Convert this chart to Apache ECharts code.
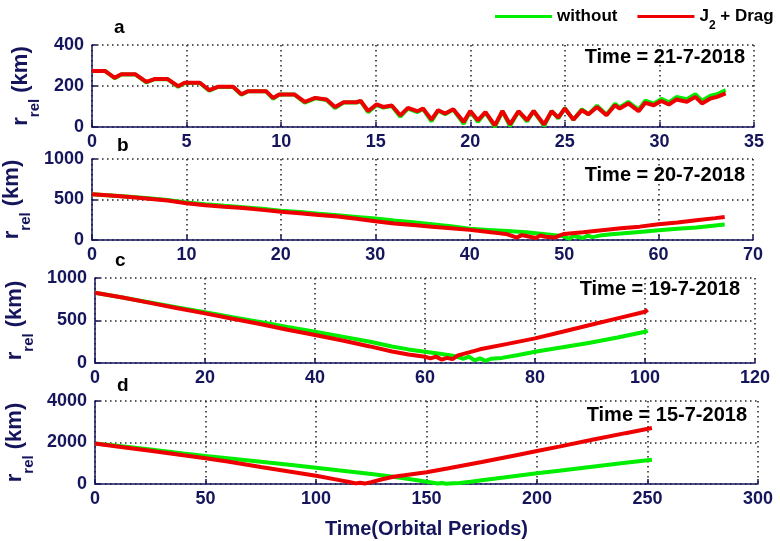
<!DOCTYPE html>
<html><head><meta charset="utf-8">
<script src="https://cdn.jsdelivr.net/npm/echarts@6/dist/echarts.min.js"></script>
<style>html,body{margin:0;padding:0;background:#fff}#c{width:780px;height:541px}</style>
</head><body><div id="c"></div>
<script>
// ---------- data ----------
const seriesNames = ['without', 'J2 + Drag'];
const panelLetters = ['a', 'b', 'c', 'd'];
const panelDates = ['Time = 21-7-2018', 'Time = 20-7-2018', 'Time = 19-7-2018', 'Time = 15-7-2018'];
const xMax = [35, 70, 120, 300];
const xStep = [5, 10, 20, 50];
const yMax = [400, 1000, 1000, 4000];
const yStep = [200, 500, 500, 2000];
const xTitle = 'Time(Orbital Periods)';

// panel a (21-7-2018)
const aX = [0, 0.7, 1.2, 1.55, 2.3, 2.87, 3.3, 4.0, 4.55, 4.9,
  5.7, 6.2, 6.65, 7.46, 7.9, 8.26, 9.2, 9.57, 9.9, 10.7,
  11.25, 11.8, 12.4, 12.85, 13.3, 14.0, 14.2, 14.6, 15.05, 15.4,
  15.85, 16.3, 16.7, 17.2, 17.5, 17.95, 18.3, 18.67, 19.1, 19.65,
  20.0, 20.4, 20.8, 21.3, 21.7, 22.1, 22.55, 23.0, 23.35, 23.9,
  24.3, 24.65, 25.0, 25.45, 25.9, 26.25, 26.7, 27.2, 27.65, 27.9,
  28.35, 28.9, 29.25, 29.7, 30.1, 30.5, 30.9, 31.45, 31.9, 32.25,
  32.7, 33.05, 33.5];
const aRed = [273, 273, 240, 257, 257, 220, 234, 234, 199, 216,
  216, 180, 196, 196, 160, 175, 175, 142, 159, 159,
  123, 142, 134, 98, 121, 121, 128, 78, 110, 98,
  105, 57, 93, 77, 90, 36, 82, 66, 87, 25,
  78, 33, 73, 8, 78, 13, 77, 33, 78, 12,
  77, 46, 90, 36, 82, 62, 98, 57, 106, 90,
  115, 77, 118, 106, 127, 110, 134, 123, 147, 115,
  139, 147, 164];
const aGreen = [273, 273, 238, 256, 256, 217, 233, 233, 196, 215,
  215, 177, 195, 195, 157, 174, 174, 138, 158, 158,
  119, 140, 132, 93, 119, 119, 126, 72, 107, 95,
  102, 50, 90, 73, 88, 28, 80, 62, 85, 15,
  76, 25, 71, 0, 76, 5, 76, 27, 78, 5,
  78, 42, 92, 35, 86, 62, 104, 60, 113, 95,
  123, 84, 128, 114, 137, 120, 146, 135, 160, 128,
  153, 160, 180];

// panel b (20-7-2018)
const bRedX = [0, 2, 4, 6, 8, 10, 12, 14, 16, 18, 20, 22, 24, 26, 28, 30, 32, 34, 36, 38, 40, 42, 43, 44, 45, 45.5, 46, 47, 47.5, 48, 49, 49.5, 50, 52, 54, 56, 58, 60, 62, 64, 66, 67];
const bRed = [565, 548, 530, 510, 488, 455, 430, 410, 395, 372, 350, 330, 308, 290, 262, 232, 205, 185, 165, 145, 125, 100, 85, 70, 30, 60, 50, 25, 55, 40, 30, 55, 75, 95, 120, 145, 165, 195, 215, 245, 270, 285];
const bGreenX = [0, 2, 4, 6, 8, 10, 12, 14, 16, 18, 20, 22, 24, 26, 28, 30, 32, 34, 36, 38, 40, 42, 44, 46, 48, 50, 50.5, 51, 52, 52.5, 53, 54, 55, 56, 58, 60, 62, 64, 66, 67];
const bGreen = [565, 550, 533, 515, 495, 462, 440, 422, 405, 385, 362, 345, 325, 305, 285, 265, 240, 220, 195, 170, 140, 125, 110, 95, 70, 45, 15, 50, 25, 55, 35, 60, 72, 80, 100, 120, 140, 155, 180, 190];

// panel c (19-7-2018)
const cRedX = [0, 5, 10, 15, 20, 25, 30, 35, 40, 45, 50, 54, 57, 60, 61, 62, 63, 64, 65, 66, 68, 70, 75, 80, 85, 90, 95, 100, 100.5];
const cRed = [827, 770, 707, 645, 584, 520, 458, 392, 329, 265, 195, 135, 100, 74, 55, 75, 40, 60, 45, 90, 125, 161, 225, 290, 368, 447, 525, 603, 625];
const cGreenX = [0, 5, 10, 15, 20, 25, 30, 35, 40, 45, 50, 54, 57, 60, 63, 65, 66, 67, 68, 69, 70, 71, 72, 74, 77, 80, 85, 90, 95, 100, 100.5];
const cGreen = [827, 770, 712, 654, 596, 540, 483, 425, 368, 310, 250, 195, 160, 133, 105, 85, 70, 50, 75, 30, 55, 25, 50, 60, 95, 133, 185, 239, 300, 368, 378];

// panel d (15-7-2018)
const dRedX = [0, 10, 25, 40, 50, 60, 75, 90, 100, 110, 115, 118, 120, 122, 125, 130, 135, 140, 150, 160, 175, 190, 200, 210, 225, 240, 252];
const dRed = [1950, 1810, 1600, 1390, 1240, 1080, 820, 570, 400, 200, 100, 30, 60, 20, 90, 230, 350, 420, 570, 760, 1060, 1370, 1590, 1800, 2130, 2450, 2700];
const dGreenX = [0, 10, 25, 40, 50, 60, 75, 90, 100, 110, 125, 135, 145, 150, 153, 155, 157, 159, 162, 165, 170, 175, 185, 200, 210, 225, 240, 252];
const dGreen = [1950, 1840, 1660, 1470, 1350, 1240, 1070, 900, 785, 660, 480, 350, 190, 110, 60, 20, 50, 10, 40, 50, 110, 180, 310, 515, 640, 830, 1020, 1170];

const greenX = [aX, bGreenX, cGreenX, dGreenX];
const greenY = [aGreen, bGreen, cGreen, dGreen];
const redX = [aX, bRedX, cRedX, dRedX];
const redY = [aRed, bRed, cRed, dRed];

// ---------- layout / style ----------
const NAVY = '#15155c';
const FONT = '"Liberation Sans", Arial, Helvetica, sans-serif';
const grids = [
  {left: 92, right: 26, top: 45, height: 82},
  {left: 92, right: 27, top: 159, height: 81},
  {left: 95, right: 25, top: 278, height: 85},
  {left: 95, right: 22, top: 401, height: 83}
].map(g => Object.assign(g, {containLabel: false, outerBoundsMode: 'none'}));
const dateRight = [745, 745, 740, 747];
const dateMid = [57.5, 175, 289.5, 415.5];
const letterPos = [[114, 37], [117, 155], [115, 270], [117, 395]];

const zip = (xs, ys) => xs.map((x, i) => [x, ys[i]]);
const gridLine = {show: true, lineStyle: {type: [1.5, 3.5], color: '#222', width: 1.5}};
const tickLabel = {color: NAVY, fontSize: 18, fontWeight: 'bold', fontFamily: FONT, formatter: v => String(v)};

const xAxes = grids.map((g, i) => ({
  gridIndex: i, type: 'value', min: 0, max: xMax[i], interval: xStep[i],
  axisLine: {show: true, onZero: false, lineStyle: {color: NAVY, width: 1.5}},
  axisTick: {show: true, inside: true, length: 5, lineStyle: {color: NAVY, width: 1.5}},
  axisLabel: Object.assign({margin: 6}, tickLabel),
  splitLine: gridLine,
  name: i === 3 ? xTitle : '', nameLocation: 'middle', nameGap: 35,
  nameTextStyle: {color: NAVY, fontSize: 20, fontWeight: 'bold', fontFamily: FONT}
}));
const yAxes = grids.map((g, i) => ({
  gridIndex: i, type: 'value', min: 0, max: yMax[i], interval: yStep[i],
  axisLine: {show: true, onZero: false, lineStyle: {color: NAVY, width: 1.5}},
  axisTick: {show: true, inside: true, length: 5, lineStyle: {color: NAVY, width: 1.5}},
  axisLabel: Object.assign({margin: 8}, tickLabel),
  splitLine: gridLine,
  name: '{m|r}{s|rel}{m| (km)}', nameLocation: 'middle', nameGap: 50, nameRotate: 90,
  nameTextStyle: {
    color: NAVY, fontFamily: FONT, fontWeight: 'bold',
    rich: {
      m: {color: NAVY, fontSize: 22, fontWeight: 'bold', fontFamily: FONT, lineHeight: 42, verticalAlign: 'middle'},
      s: {color: NAVY, fontSize: 15, fontWeight: 'bold', fontFamily: FONT, lineHeight: 42, verticalAlign: 'bottom'}
    }
  }
}));

const series = [];
grids.forEach((g, i) => {
  series.push({
    name: seriesNames[0], type: 'line', xAxisIndex: i, yAxisIndex: i,
    data: zip(greenX[i], greenY[i]), symbol: 'none', showSymbol: false,
    lineStyle: {color: '#00ee00', width: 4}, itemStyle: {color: '#00ee00'}, z: 2
  });
  series.push({
    name: seriesNames[1], type: 'line', xAxisIndex: i, yAxisIndex: i,
    data: zip(redX[i], redY[i]), symbol: 'none', showSymbol: false,
    lineStyle: {color: '#ee0000', width: 4}, itemStyle: {color: '#ee0000'}, z: 3
  });
});

const graphic = [];
grids.forEach((g, i) => {
  graphic.push({type: 'text', x: letterPos[i][0], y: letterPos[i][1],
    style: {text: panelLetters[i], font: 'bold 19px ' + FONT, fill: '#000', textVerticalAlign: 'bottom'}});
  graphic.push({type: 'text', x: dateRight[i], y: dateMid[i],
    style: {text: panelDates[i], font: 'bold 20px ' + FONT, fill: '#000', textAlign: 'right', textVerticalAlign: 'middle'}});
});

const chart = echarts.init(document.getElementById('c'), null, {renderer: 'canvas'});
chart.setOption({
  animation: false,
  backgroundColor: '#fff',
  grid: grids,
  xAxis: xAxes,
  yAxis: yAxes,
  legend: {
    data: seriesNames, left: 495, top: 8, padding: 0, itemWidth: 57, itemHeight: 3, itemGap: 20,
    icon: 'rect',
    formatter: n => n === 'J2 + Drag' ? '{m|J}{s|2}{m| + Drag}' : '{m|' + n + '}',
    textStyle: {
      color: '#000', fontWeight: 'bold', fontSize: 17, fontFamily: FONT,
      rich: {
        m: {color: '#000', fontSize: 17, fontWeight: 'bold', fontFamily: FONT, lineHeight: 30, verticalAlign: 'middle'},
        s: {color: '#000', fontSize: 12, fontWeight: 'bold', fontFamily: FONT, lineHeight: 30, verticalAlign: 'bottom'}
      }
    }
  },
  graphic: graphic,
  series: series
});
</script>
</body></html>
